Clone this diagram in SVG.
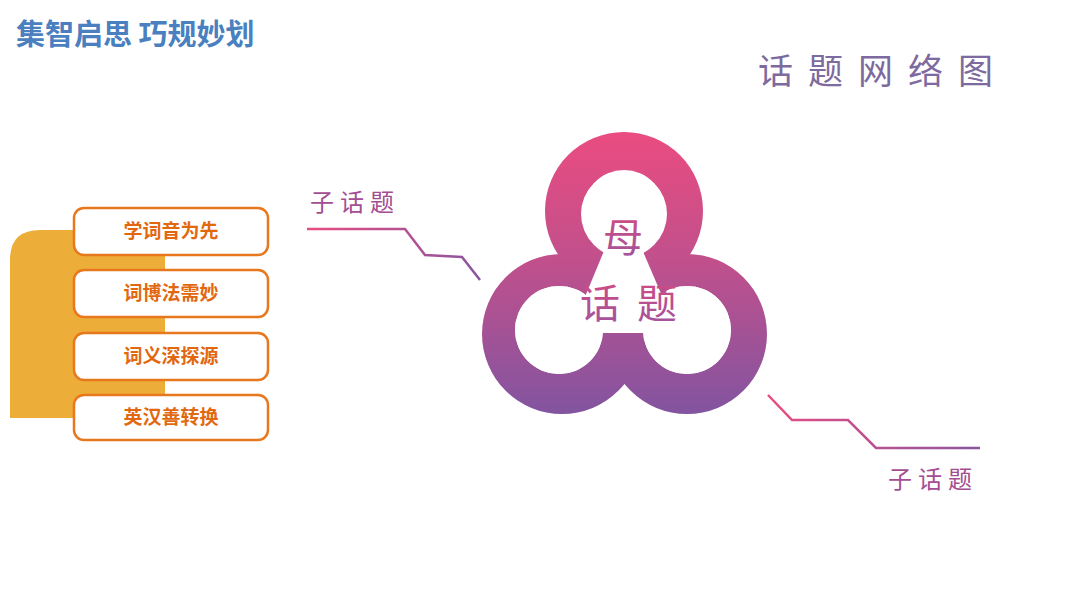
<svg xmlns="http://www.w3.org/2000/svg" width="1080" height="608" viewBox="0 0 1080 608">
<defs>
<linearGradient id="rg" gradientUnits="userSpaceOnUse" x1="0" y1="132" x2="0" y2="415"><stop offset="0" stop-color="#ea4c80"/><stop offset="0.45" stop-color="#c1508c"/><stop offset="1" stop-color="#8254a0"/></linearGradient>
<linearGradient id="tg" x1="0" y1="0" x2="0" y2="1"><stop offset="0" stop-color="#d9497f"/><stop offset="1" stop-color="#9b55a0"/></linearGradient>
<linearGradient id="lg1" gradientUnits="userSpaceOnUse" x1="307" y1="0" x2="480" y2="0"><stop offset="0" stop-color="#e94c82"/><stop offset="1" stop-color="#8a55a0"/></linearGradient>
<linearGradient id="lg2" gradientUnits="userSpaceOnUse" x1="768" y1="0" x2="980" y2="0"><stop offset="0" stop-color="#e94c82"/><stop offset="1" stop-color="#8a55a0"/></linearGradient>
<style>
.box{fill:#fff;stroke:#e8781e;stroke-width:2.5}
.bt{font-family:"Noto Sans CJK SC",sans-serif;font-weight:bold;font-size:19px;fill:#e2680f;text-anchor:middle}
.ring{fill:url(#rg);fill-rule:evenodd}
.ct{font-family:"Noto Sans CJK SC",sans-serif;font-size:40px;fill:url(#tg);text-anchor:middle}
.sub{font-family:"Noto Sans CJK SC",sans-serif;font-size:24px;fill:#a34d92;letter-spacing:6px}
</style>
</defs>
<text x="16" y="45" font-family="Noto Sans CJK SC,sans-serif" font-weight="bold" font-size="29" fill="#4a7fc0">集智启思 巧规妙划</text>
<text x="758" y="84" font-family="Noto Sans CJK SC,sans-serif" font-size="35" fill="#7d6a9e" letter-spacing="15">话题网络图</text>
<g id="block"><path d="M10,418 V260 Q10,230 40,230 H165 V418 Z" fill="#ecae38"/></g>
<g id="n1"><rect class="box" x="74" y="208" width="194" height="47" rx="10"/><text class="bt" x="171" y="238">学词音为先</text></g>
<g id="n2"><rect class="box" x="74" y="270" width="194" height="47" rx="10"/><text class="bt" x="171" y="300">词博法需妙</text></g>
<g id="n3"><rect class="box" x="74" y="333" width="194" height="47" rx="10"/><text class="bt" x="171" y="363">词义深探源</text></g>
<g id="n4"><rect class="box" x="74" y="395" width="194" height="45" rx="10"/><text class="bt" x="171" y="424">英汉善转换</text></g>
<g id="trefoil">
<path class="ring" d="M482,334a80,80 0 1,0 160,0a80,80 0 1,0 -160,0ZM515,330a44,44 0 1,1 88,0a44,44 0 1,1 -88,0Z"/>
<path class="ring" d="M607,334a80,80 0 1,0 160,0a80,80 0 1,0 -160,0ZM643,330a44,44 0 1,1 88,0a44,44 0 1,1 -88,0Z"/>
<path class="ring" d="M545,211a79,79 0 1,0 158,0a79,79 0 1,0 -158,0ZM582,214a42,44 0 1,1 84,0a42,44 0 1,1 -84,0Z"/>
<polygon points="623,205 570,333 678,333" fill="#fff"/>
<circle cx="559" cy="330" r="44" fill="#fff"/>
<circle cx="687" cy="330" r="44" fill="#fff"/>
<circle cx="624" cy="214" r="43" fill="#fff"/>
<text class="ct" x="623" y="252">母</text>
<text class="ct" x="600" y="318">话</text>
<text class="ct" x="657" y="318">题</text>
</g>
<g id="connectors" fill="none" stroke-width="2.5">
<polyline points="307,229 405,229 425,255 462,257 480,280" stroke="url(#lg1)"/>
<polyline points="768,395 792,420 848,420 876,448 980,448" stroke="url(#lg2)"/>
</g>
<text class="sub" x="310" y="211">子话题</text>
<text class="sub" x="888" y="488">子话题</text>
</svg>
